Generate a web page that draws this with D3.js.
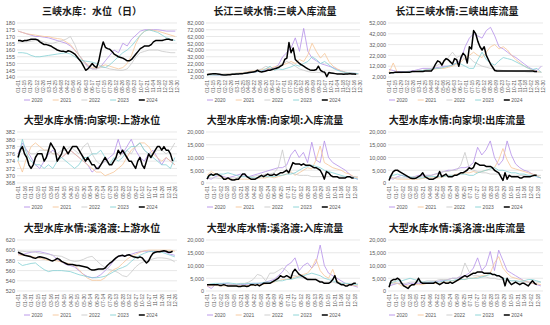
<!DOCTYPE html>
<html><head><meta charset="utf-8">
<script src="https://cdn.jsdelivr.net/npm/d3@7"></script>
<style>body{margin:0;background:#fff}svg{display:block}</style>
</head><body><svg id="c" width="550" height="325"></svg>
<script>
// Series order everywhere: 2020, 2021, 2022, 2023, 2024.
// Earlier years are sampled every 10 days, 2024 every 5 days (day 0 = 01-01).
const years = ["2020", "2021", "2022", "2023", "2024"];
const colors = ["#b48fe8", "#f6c597", "#c9c9c9", "#84d1d4", "#000000"];

const ticks14 = ["01-01","01-15","01-29","02-12","02-26","03-11","03-25","04-08","04-22","05-06","05-20","06-03","06-17","07-01","07-15","07-29","08-12","08-26","09-09","09-23","10-07","10-21","11-04","11-18","12-02","12-16","12-30"];
const ticks15 = ["01-01","01-16","01-31","02-15","03-01","03-16","03-31","04-15","04-30","05-15","05-30","06-14","06-29","07-14","07-29","08-13","08-28","09-12","09-27","10-12","10-27","11-11","11-26","12-11","12-26"];
const ticks16 = ["01-01","01-17","02-02","02-18","03-05","03-21","04-06","04-22","05-08","05-24","06-09","06-25","07-11","07-27","08-12","08-28","09-13","09-29","10-15","10-31","11-16","12-02","12-18"];

// 三峡水库 水位
const sxLevel = [
  [174,173,172,171,170,170,169.5,169,168,167,166,165,163,160,156,152,148,146,146,148,152,156,160,158,165,163,168,171,174,175,175,175,175,174.5,174,174,174],
  [174,173,172,171.5,171,170.5,170,170,169,168.5,168,166,164,160,156,152,149,147,146.5,148,149,148,147,146,147,150,156,165,171,174,175,174.5,174,173,172,171,170],
  [166,166,166,166.5,167,167,166,165,165,166,167,168,170,164,156,151,147,146,146,147,147,146,145.5,145,145,146,150,155,158,159,160,160,160,159,158.5,158,158],
  [158,158,157.5,156,155,155,155.5,156,156.5,157,157.5,158,157,155,153,152,151.5,151,150,148,147,149,152,155,158,160,163,167,171,174,175,174,173,171,169,168,167],
  [167,167,166.5,167,167,167.5,168,168,168,167.5,166,165,164,164,163.5,163,162,161,160,159.5,159,159,158.5,159.5,159,158,157,155,153,151,148,145,146,148,150,148,147,152,160,166,162,161,160.5,159,157,156,155,154.5,154,153,152,152,153,155,157,159,161,162,163,163,163,164,166,167,167,167,167,167.5,168,168,167.5,167.5]
];
// 三峡入库流量
const sxInflow = [
  [5500,5500,5000,5000,5500,5500,6000,6500,7000,7500,8000,9000,10000,11000,12000,14000,16000,20000,32000,38000,45000,60000,40000,74000,40000,30000,26000,22000,20000,18000,16000,13000,11000,9000,8000,7500,7000],
  [6000,6000,5500,5500,6000,6500,7000,7500,8000,9000,10000,11000,12000,13000,14000,15000,17000,18000,20000,22000,25000,22000,28000,25000,35000,52000,40000,30000,37000,25000,18000,14000,11000,9000,8000,7000,6500],
  [6000,6000,6000,6000,6500,7000,7000,7500,8000,8500,9000,10000,12000,14000,18000,15000,14000,18000,22000,25000,22000,18000,14000,12000,10000,9000,9000,8500,8000,8000,7500,7000,7000,6500,6000,6000,6000],
  [5000,5000,5000,5000,5500,5500,6000,6500,7000,7500,8000,9000,10000,11000,14000,18000,12000,14000,13000,15000,17000,20000,18000,22000,25000,32000,28000,22000,25000,20000,15000,12000,10000,8500,8000,7500,7000],
  [5500,6000,6500,7000,7000,6500,6000,5500,5000,5000,5500,5500,6000,6000,6500,6500,7000,7000,7500,8000,8500,9000,9500,10000,12000,10000,9500,10000,11000,12000,12000,13000,14000,15000,16000,18000,20000,28000,30000,53000,38000,45000,28000,25000,22000,20000,18000,16000,14000,12500,12000,12000,13000,18000,12000,10000,9000,2500,8500,8000,7500,7000,6500,6500,6500,6000,6500,6500,7000,6500,6500,6000]
];
// 三峡出库流量
const sxOutflow = [
  [9000,8000,7000,7000,7000,7500,8000,9000,10000,10000,10000,10500,11000,12000,12000,13000,15000,18000,30000,38000,42000,40000,38000,45000,48000,40000,30000,28000,25000,22000,20000,17000,14000,11000,9000,8000,12000],
  [6000,15000,6000,6000,6500,7000,7000,7500,8000,8500,9000,9500,10000,10000,11000,12000,14000,16000,20000,22000,25000,22000,20000,25000,30000,32000,28000,30000,27000,22000,18000,15000,12000,10000,8000,7000,6500],
  [6000,6000,6000,6000,6500,7000,7000,7500,8000,9000,10000,12000,14000,16000,20000,25000,20000,22000,18000,20000,16000,14000,12000,11000,10000,9000,8500,8000,7500,7500,7000,7000,7000,6500,6500,6500,6500],
  [6000,6000,6000,6500,6500,7000,7000,7500,8000,8500,9000,10000,10000,11000,12000,13000,15000,14000,12000,10000,10000,18000,25000,18000,15000,13000,17000,20000,19000,18000,16000,14000,12000,10000,9000,10000,6000],
  [5500,6000,6000,6500,6500,6500,6500,6500,6500,6500,6500,7000,7000,7000,7000,7000,7000,7500,7500,7500,7500,10000,14000,17000,16000,13000,17000,19000,18000,16000,14000,19000,18000,12000,20000,24000,22000,15000,30000,28000,45000,42000,35000,30000,27000,30000,22000,18000,14000,11000,8000,7500,7500,7500,7500,7500,7500,7500,7500,7500,7500,7500,7500,7500,7500,7500,7500,7500,7500,7000,7000]
];
// 向家坝 上游水位
const xjbLevel = [
  [376,379,377,375,373,372,374,376,377,376,375,376,377,376,375,374,373,371,372,373,374,375,376,380,376,378,380,377,375,374,376,377,375,373,375,374,373],
  [374,371,375,378,379,378,377,377,376,376,375,376,377,376,375,374,373,372,371,371,370,370.5,371,372,373,375,377,378,379,379,378,376,375,374,375,374,373],
  [376,377,377,376,376,377,377,377,376,376,377,377,378,377,376,378,379,376,374,373,374,373,374,375,376,377,376,378,379,377,376,376,377,377,376,377,379],
  [374,380,376,374,373,373,372,373,372,374,375,374,373,372,373,375,375,376,376,377,375,373,375,374,375,377,378,378,379,377,376,375,374,373,373,372,375],
  [375,377,378,376,375,373,372,373,375,376,376,376,374,375,377,379,378,377,374,375,376,378,377,376,377,378,378,378,377,376,375,374,375,374,373,373,372,372,373,374,375,374,373,373,374,375,377,376,377,376,375,374,374,373,372,374,375,373,372,374,376,375,376,377,378,378,377,378,377,377,376,374]
];
// 向家坝 入库流量
const xjbInflow = [
  [2000,1500,2500,3000,2500,2000,2500,3000,3500,3000,2500,3000,3500,4000,4500,5000,5500,6000,6000,7000,11000,13000,10000,12000,8000,16000,9000,8000,16500,10000,8000,7000,6000,5000,3500,2000,1500],
  [3000,4500,3500,2500,2000,1500,1500,1200,1500,1500,1500,1500,1800,2000,2000,2500,2000,2500,3000,3500,4500,3000,4000,5000,6000,5500,9000,14500,8000,7000,6000,5500,5000,4000,3500,2500,2000],
  [2000,2000,2000,1800,1800,2000,2000,2000,2500,2500,2500,2500,3000,3000,3500,3500,4000,6000,13000,5000,4000,3500,3000,3000,3000,2500,2500,2500,2500,2500,2500,2500,2500,2500,2500,2500,2500],
  [2500,3000,3000,3500,3500,4000,3500,3000,2500,2500,2500,2000,2000,2500,2500,2500,2500,3000,3000,3500,3500,4000,5000,6000,6500,7000,6500,6000,5000,4500,4000,3500,3000,2500,2500,2000,1500],
  [1500,3000,3500,3000,3500,3500,3000,2500,1500,1500,2000,1500,1200,1200,1500,1500,2500,3500,3500,2500,2000,1500,1500,1500,2000,2500,3000,2500,3000,3500,3000,3000,3500,3000,3500,4000,4000,4500,5000,4000,6000,8000,7500,7500,7500,7000,7500,7000,7000,7000,6500,6000,6000,5500,5000,3500,1500,4500,4000,3000,2500,2500,2500,2000,2000,2000,2000,2500,2500,2000,2000]
];
// 向家坝 出库流量
const xjbOutflow = [
  [2000,1500,2500,3000,2500,2000,2500,3000,3000,3000,3000,3500,4000,4500,5000,5000,5500,6000,6000,6500,8000,14000,11000,13000,16500,10000,7000,9000,16500,11000,7500,6000,5000,4500,3500,2500,2000],
  [2500,2000,1500,1500,1500,1500,1500,1500,1800,2000,2000,2000,2000,2500,3000,3000,3500,3500,4000,4000,4500,4000,4500,5000,5500,6000,9000,13500,9000,6000,5500,5000,4500,4000,3500,3000,2000],
  [2000,2000,2000,2000,2000,2000,2500,2500,2500,3000,3000,3500,4000,4500,4500,5000,5000,7000,12000,6000,5000,4500,4000,4000,3500,3500,3500,3000,3000,3000,3000,3000,3000,3000,3000,3000,3000],
  [2500,3000,3500,3000,2500,2500,2000,2000,2000,2500,2500,2500,2500,2500,3000,3000,3000,3500,3500,3000,3000,4000,4500,5000,5500,6000,5000,5000,4500,4000,4000,3500,3500,3000,3000,2500,2000],
  [1000,3000,4500,5000,5000,4500,4000,3500,3000,2500,2000,1800,1800,2000,2500,3000,4000,2500,2000,1500,1500,1500,2000,2500,4500,2500,3000,3500,2500,2500,2500,3000,3000,3500,4000,4000,4500,5000,6000,5500,6000,8000,7500,7000,7000,7000,6500,6500,6500,6000,5000,4500,4000,2500,1000,4000,1500,3000,2500,2500,2500,2500,2000,2000,2500,2500,2500,2500,2800,3000,3000]
];
// 溪洛渡 上游水位
const xldLevel = [
  [593,591,594,596,597,597,595,593,590,582,577,572,570,567,560,553,548,546,547,552,560,568,580,588,589,590,592,595,597,598,598,598,598,598,596,592,590],
  [591,590,590,588,586,584,582,580,580,579,577,575,573,570,562,552,545,541,541,541,546,556,562,566,574,582,588,592,596,599,600,600,600,600,600,600,598],
  [598,598,597,597,596,594,593,592,590,589,588,584,580,578,579,582,586,588,580,572,566,562,560,556,550,548,557,567,574,578,580,583,585,585,584,582,577],
  [576,570,572,574,575,568,562,558,560,560,560,559,558,555,552,550,548,546,546,547,549,553,558,563,566,570,578,585,590,594,597,598,597,596,593,590,587],
  [596,594,592,590,589,588,587,585,584,586,587,586,585,584,582,580,579,581,584,582,578,576,574,572,572,572,571,570,570,569,568,567,566,563,561,561,562,563,563,563,565,570,574,577,581,585,588,589,590,588,590,591,589,587,586,585,587,585,580,575,579,588,594,596,597,597,598,599,598,596,596,598]
];
// 溪洛渡 入库流量
const xldInflow = [
  [2000,1000,2500,2800,3000,2800,2500,2500,2500,2500,2800,3000,3000,3000,3500,4000,4500,6000,7500,10000,11000,13000,8000,10000,11000,9000,11000,18000,10000,7000,6000,5000,4000,3000,2500,2000,1500],
  [2000,2000,2200,2000,2000,2000,2000,2000,2000,2000,2200,2200,2500,2500,2800,3000,3500,4000,4500,4500,5000,5500,6000,6500,7000,9000,12500,8000,6000,5000,8500,4000,3000,2800,2500,2200,2000],
  [2500,2500,2500,2500,2500,2500,2500,2500,3000,3000,3500,4500,6500,6000,4000,7000,7000,8000,9000,8000,6000,6000,5500,5000,5000,4500,4500,4000,3500,3500,3500,3000,3000,3000,3000,3000,2800],
  [2500,2800,3000,3000,3000,3200,3000,2800,2800,2800,3000,3000,3000,3200,3500,3500,3800,4000,4000,4500,4500,5000,5500,6000,6500,7000,6500,6000,5000,4500,4000,3500,3000,3000,2800,2500,2500],
  [2500,2500,2500,2500,2500,2500,2200,2200,2500,2200,2000,2000,2000,2000,2000,1800,1800,2000,2000,1800,2000,2500,2500,2200,2500,2000,2500,3000,3000,3000,3000,3500,4000,4500,5000,6000,5500,5500,6000,5500,5000,7500,8500,7500,6500,6000,5500,5000,4500,4500,4500,4500,4500,4000,3500,3500,3000,3000,3000,3500,4500,6000,3500,3000,2500,2500,2000,2000,2500,2500,3000,3000]
];
// 溪洛渡 出库流量
const xldOutflow = [
  [2000,2500,3000,3000,2500,3000,3000,3000,3000,3200,3500,3500,4000,4000,4500,5000,5000,5500,6000,7000,9000,13000,8000,10000,15500,8000,16000,12000,8000,7000,6000,5000,4000,3500,3000,2500,2000],
  [3000,3500,3000,2000,2000,2000,2500,2500,2500,3000,3000,3000,3000,3500,3500,4000,4000,4500,4500,5000,5000,5500,6000,6000,7000,11000,13500,9000,7000,5500,5000,4500,4000,3500,3000,2800,2500],
  [3000,3000,3000,3000,3000,3500,3500,3500,3500,4000,4000,4000,4500,4500,4500,5000,5000,6000,11000,7500,6000,6000,5500,5500,5000,5000,4500,4500,4000,4000,4000,3500,3500,3500,3500,3500,3500],
  [3000,3500,4000,4000,4500,5000,4500,4000,3500,3500,3500,3500,3500,4000,4000,4000,4500,4500,4500,5000,5000,5000,5500,6000,6500,6500,6000,5000,4500,4000,4000,3800,4000,4500,4500,4000,3500],
  [1500,4000,4500,4500,5000,4500,3000,2000,1500,1000,2000,2500,2500,3500,5000,3500,3000,3000,3000,3000,3000,3000,3500,3000,2500,3000,3500,3000,3000,3500,3000,3500,4000,4500,5000,5500,6000,5500,6000,6500,7000,7000,7500,7500,7500,7000,7000,7000,7000,6500,6500,6000,6000,5500,5000,2000,5000,3500,2500,3000,3500,3000,2500,3000,3000,2500,2000,3000,4000,3000,2500]
];

const titles = [
  "三峡水库：水位（日）", "长江三峡水情:三峡入库流量", "长江三峡水情:三峡出库流量",
  "大型水库水情:向家坝:上游水位", "大型水库水情:向家坝:入库流量", "大型水库水情:向家坝:出库流量",
  "大型水库水情:溪洛渡:上游水位", "大型水库水情:溪洛渡:入库流量", "大型水库水情:溪洛渡:出库流量"
];
const yTicksList = [
  d3.range(140, 181, 5), d3.range(2000, 82001, 10000), d3.range(2000, 52001, 10000),
  d3.range(368, 383, 2), d3.range(0, 20001, 5000), d3.range(0, 20001, 5000),
  d3.range(520, 621, 20), d3.range(0, 20001, 5000), d3.range(0, 20001, 5000)
];
const xTickList = [ticks14, ticks14, ticks14, ticks15, ticks16, ticks16, ticks15, ticks16, ticks16];
const seriesList = [sxLevel, sxInflow, sxOutflow, xjbLevel, xjbInflow, xjbOutflow, xldLevel, xldInflow, xldOutflow];

// Grid of small multiples: column plot spans and row bands
const COLS = [{ox: 0, x0: 18, x1: 177}, {ox: 183, x0: 207, x1: 360}, {ox: 365, x0: 389, x1: 543}];
const ROWS = [
  {title: 15, y0: 23, y1: 77, legend: 100},
  {title: 124, y0: 132, y1: 183, legend: 207},
  {title: 232, y0: 240, y1: 291, legend: 315}
];

const jan1 = new Date(2024, 0, 1);
const dayOf = s => {
  const [m, d] = s.split("-").map(Number);
  return d3.timeDay.count(jan1, new Date(2024, m - 1, d));
};

const svg = d3.select("#c");
const fmtComma = d3.format(",");

seriesList.forEach((series, pi) => {
  const col = COLS[pi % 3], row = ROWS[Math.floor(pi / 3)];
  const yTicks = yTicksList[pi];
  const labels = xTickList[pi];
  const xMax = pi < 3 ? 364 : 365;
  const x = d3.scaleLinear().domain([0, xMax]).range([col.x0, col.x1]);
  const y = d3.scaleLinear().domain([yTicks[0], yTicks[yTicks.length - 1]]).range([row.y1, row.y0]);
  const g = svg.append("g");

  // title
  g.append("text")
    .attr("x", col.ox + 92).attr("y", row.title)
    .attr("text-anchor", "middle")
    .attr("font-family", "'Noto Sans CJK SC', sans-serif")
    .attr("font-weight", 700).attr("font-size", 10)
    .attr("fill", "#1a1a1a")
    .text(titles[pi]);

  // horizontal grid
  g.append("g").selectAll("line").data(yTicks).join("line")
    .attr("x1", col.x0 - 1).attr("x2", col.x1)
    .attr("y1", d => y(d)).attr("y2", d => y(d))
    .attr("stroke", "#d9d9d9").attr("stroke-width", 0.6);

  // y axis labels
  const ya = g.append("g").attr("transform", `translate(${col.x0 - 2},0)`)
    .call(d3.axisLeft(y).tickValues(yTicks).tickSize(0).tickPadding(1)
      .tickFormat(d => (d >= 1000 ? fmtComma(d) : d)));
  ya.select(".domain").remove();
  ya.attr("font-family", "'Liberation Sans', Arial, sans-serif").attr("font-size", 5.5).attr("color", "#595959");

  // x axis labels, rotated
  const labelByDay = new Map(labels.map(s => [dayOf(s), s]));
  const xa = g.append("g").attr("transform", `translate(0,${row.y1})`)
    .call(d3.axisBottom(x).tickValues([...labelByDay.keys()]).tickSize(0)
      .tickFormat(d => labelByDay.get(d)));
  xa.select(".domain").remove();
  xa.attr("font-family", "'Liberation Sans', Arial, sans-serif").attr("font-size", 5).attr("color", "#595959");
  xa.selectAll("text")
    .attr("transform", "rotate(-90)")
    .attr("text-anchor", "end")
    .attr("x", -3).attr("y", 0).attr("dy", "0.35em");

  // lines
  const line = d3.line().x(d => x(d[0])).y(d => y(d[1])).curve(d3.curveLinear);
  series.forEach((vals, i) => {
    const step = i === 4 ? 5 : 10;
    g.append("path")
      .datum(vals.map((v, k) => [k * step, v]))
      .attr("fill", "none")
      .attr("stroke", colors[i])
      .attr("stroke-width", i === 4 ? 1.5 : 0.8)
      .attr("stroke-linejoin", "round")
      .attr("d", line);
  });

  // legend
  const lg = g.append("g").attr("transform", `translate(${col.ox + 24},${row.legend})`);
  years.forEach((yr, i) => {
    const item = lg.append("g").attr("transform", `translate(${i * 28.7},0)`);
    item.append("line").attr("x1", 0).attr("x2", 6).attr("y1", 0).attr("y2", 0)
      .attr("stroke", colors[i]).attr("stroke-width", i === 4 ? 1.5 : 0.9);
    item.append("text").attr("x", 7.5).attr("y", 0).attr("dy", "0.35em")
      .attr("font-family", "'Liberation Sans', Arial, sans-serif")
      .attr("font-size", 5).attr("fill", "#595959").text(yr);
  });
});
</script>
</body></html>
